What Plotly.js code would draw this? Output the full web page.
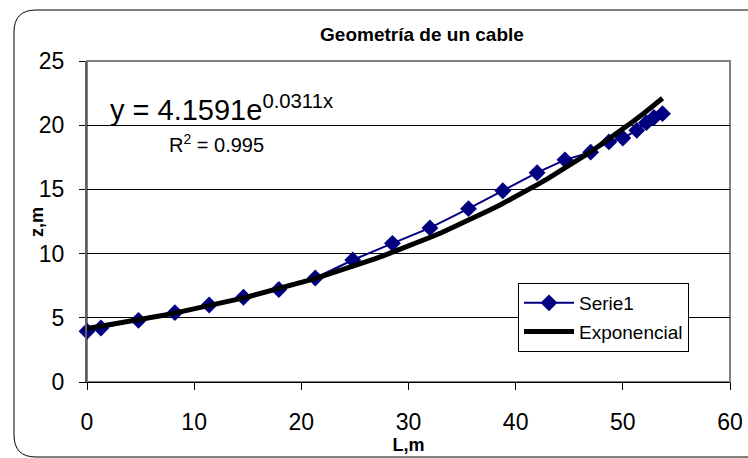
<!DOCTYPE html>
<html>
<head>
<meta charset="utf-8">
<script src="https://cdn.plot.ly/plotly-3.0.1.min.js"></script>
<style>html,body{margin:0;padding:0;background:#fff;}#chart{width:748px;height:458px;}</style>
</head>
<body>
<div id="chart"></div>
<script>
// Data
const L_m = [0, 1.3, 4.8, 8.2, 11.4, 14.6, 17.9, 21.3, 24.8, 28.5, 32.0, 35.6, 38.8, 42.0, 44.6, 47.0, 48.7, 50.0, 51.3, 52.2, 52.9, 53.7];
const z_m = [3.95, 4.2, 4.8, 5.4, 6.0, 6.6, 7.2, 8.1, 9.5, 10.8, 12.0, 13.5, 14.9, 16.3, 17.3, 17.9, 18.7, 19.0, 19.6, 20.2, 20.6, 20.9];
// Exponential trendline coefficients shown on the chart
const fitA = 4.1591;
const fitB = 0.0311;
const fitR2 = 0.995;
const xTicks = [0, 10, 20, 30, 40, 50, 60];
const yTicks = [0, 5, 10, 15, 20, 25];

const xmax = L_m[L_m.length - 1];
const fitX = [], fitY = [];
for (let i = 0; i <= 60; i++) {
  const x = xmax * i / 60;
  fitX.push(x);
  fitY.push(fitA * Math.exp(fitB * x));
}

const FONT = '"Liberation Sans", Arial, sans-serif';

const traces = [
  {
    x: L_m, y: z_m, name: 'Serie1', type: 'scatter', mode: 'lines+markers',
    legendgroup: 'a', cliponaxis: false,
    line: {color: '#000080', width: 2},
    marker: {symbol: 'diamond', size: 13, color: '#000080'}
  },
  {
    x: fitX, y: fitY, name: 'Exponencial', type: 'scatter', mode: 'lines',
    legendgroup: 'b',
    line: {color: '#000000', width: 5}
  }
];

// pixel -> paper helpers (plot area: l=87, t=61, w=643, h=321)
const PX = p => (p - 87) / 643;
const PY = p => (382 - p) / 321;

const layout = {
  width: 748, height: 458,
  margin: {l: 87, r: 18, t: 61, b: 76},
  paper_bgcolor: '#ffffff', plot_bgcolor: '#ffffff',
  font: {family: FONT, color: '#000'},
  showlegend: true,
  title: {
    text: '<b>Geometría de un cable</b>',
    font: {family: FONT, size: 19, color: '#000'},
    xref: 'paper', x: PX(422), xanchor: 'center',
    yref: 'container', y: 1 - 34 / 458, yanchor: 'middle'
  },
  xaxis: {
    range: [0, 60], tickvals: xTicks, ticktext: xTicks.map(String),
    showgrid: false, zeroline: false,
    showline: true, linecolor: '#000', linewidth: 1,
    ticks: 'outside', ticklen: 7, tickcolor: '#000', tickwidth: 1,
    tickfont: {family: FONT, size: 23, color: '#000'},
    ticklabelstandoff: 12,
    title: {text: '<b>L,m</b>', font: {family: FONT, size: 18, color: '#000'}, standoff: 0}
  },
  yaxis: {
    range: [0, 25], tickvals: yTicks, ticktext: yTicks.map(String),
    showgrid: true, gridcolor: '#000', gridwidth: 1, zeroline: false,
    showline: true, linecolor: '#606060', linewidth: 2,
    ticks: 'outside', ticklen: 6, tickcolor: '#000', tickwidth: 1,
    tickfont: {family: FONT, size: 23, color: '#000'},
    ticklabelstandoff: 10
  },
  legend: {
    x: PX(518), y: PY(283), xanchor: 'left', yanchor: 'top',
    bgcolor: '#ffffff', bordercolor: '#000', borderwidth: 1,
    font: {family: FONT, size: 19, color: '#000'},
    itemwidth: 50, traceorder: 'grouped', tracegroupgap: 1
  },
  shapes: [
    // plot-area border (grey top and right)
    {type: 'rect', xref: 'paper', yref: 'paper', x0: 0, x1: 1, y0: 0, y1: 1,
     line: {color: '#808080', width: 2}, layer: 'below'},
    // outer rounded chart border
    {type: 'path', xref: 'paper', yref: 'paper', layer: 'above',
     path: 'M ' + PX(760) + ',' + PY(10) +
           ' L ' + PX(36) + ',' + PY(10) +
           ' Q ' + PX(14) + ',' + PY(10) + ' ' + PX(14) + ',' + PY(32) +
           ' L ' + PX(14) + ',' + PY(435) +
           ' Q ' + PX(14) + ',' + PY(457) + ' ' + PX(36) + ',' + PY(457) +
           ' L ' + PX(760) + ',' + PY(457),
     line: {color: '#000', width: 1}}
  ],
  annotations: [
    {text: '<b>z,m</b>', xref: 'paper', yref: 'paper', textangle: -90,
     x: PX(37), y: PY(222), xanchor: 'center', yanchor: 'middle', showarrow: false,
     font: {family: FONT, size: 18, color: '#000'}},
    {text: 'y = ' + fitA + 'e<sup>' + fitB + 'x</sup>', xref: 'paper', yref: 'paper',
     x: PX(108), y: PY(128), xanchor: 'left', yanchor: 'bottom', showarrow: false,
     font: {family: FONT, size: 29, color: '#000'}},
    {text: 'R<sup>2</sup> = ' + fitR2, xref: 'paper', yref: 'paper',
     x: PX(167), y: PY(158), xanchor: 'left', yanchor: 'bottom', showarrow: false,
     font: {family: FONT, size: 20, color: '#000'}}
  ]
};

Plotly.newPlot('chart', traces, layout, {displayModeBar: false, staticPlot: true});
</script>
</body>
</html>
